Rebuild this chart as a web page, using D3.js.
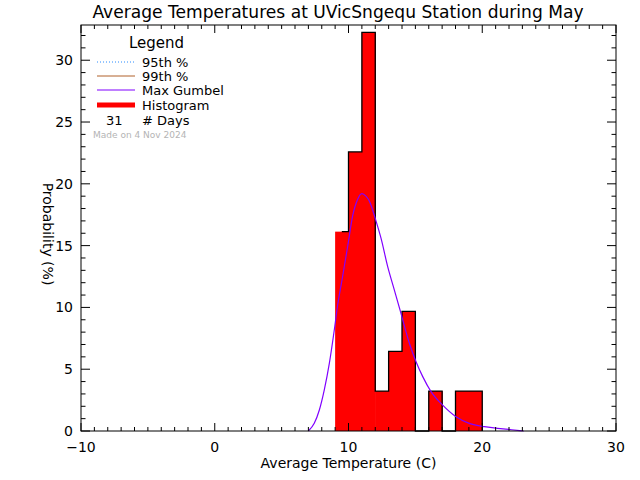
<!DOCTYPE html>
<html>
<head>
<meta charset="utf-8">
<script src="https://cdn.jsdelivr.net/npm/d3@7"></script>
<style>
  body { margin: 0; background: #fff; }
  svg text { font-family: "DejaVu Sans", sans-serif; fill: #000; }
</style>
</head>
<body>
<div id="chart"></div>
<script>
// histogram bins (lower edge, deg C) and probability (%)
var binStart = [9, 10, 11, 12, 13, 14, 15, 16, 17, 18, 19];
var binProb = [16.13, 22.58, 32.26, 3.23, 6.45, 9.68, 0, 3.23, 0, 3.23, 3.23];

// Max Gumbel curve
var gumbelT = [7.0, 7.44, 7.82, 8.19, 8.57, 8.94, 9.19, 9.56, 9.94, 10.31, 10.68, 11.0, 11.3, 11.56, 12.06, 12.43, 12.93, 13.43, 13.85, 14.55, 15.05, 15.55, 16.17, 17.04, 18.04, 19.03, 20.15, 21.15, 22.2, 23.1];
var gumbelP = [0.0, 0.62, 1.70, 3.33, 5.49, 8.19, 10.2, 12.5, 14.95, 17.4, 18.73, 19.2, 19.0, 18.6, 16.98, 15.6, 13.3, 11.4, 9.8, 7.1, 5.6, 4.4, 3.19, 2.1, 1.16, 0.62, 0.35, 0.22, 0.1, 0.0];

var nDays = 31;
var xTicks = [-10, 0, 10, 20, 30];
var yTicks = [0, 5, 10, 15, 20, 25, 30];

var width = 640, height = 480;
var margin = {left: 81, right: 24, top: 25, bottom: 49};
var w = width - margin.left - margin.right;
var h = height - margin.top - margin.bottom;

var svg = d3.select("#chart").append("svg")
    .attr("width", width)
    .attr("height", height);

var g = svg.append("g")
    .attr("transform", "translate(" + margin.left + "," + margin.top + ")");

var x = d3.scaleLinear().domain([-10, 30]).range([0, w]);
var y = d3.scaleLinear().domain([0, 32.85]).range([h, 0]);

// red bars (a little overlap so no seams show between equal bars)
g.selectAll(".bar")
    .data(binStart)
    .enter()
    .append("rect")
    .attr("class", "bar")
    .attr("x", function (d) { return x(d); })
    .attr("y", function (d, i) { return y(binProb[i]); })
    .attr("width", function (d, i) {
        var extra = (i < binStart.length - 1) ? 0.6 : 0;
        return x(d + 1) - x(d) + extra;
    })
    .attr("height", function (d, i) { return h - y(binProb[i]); })
    .attr("fill", "#ff0000");

// black step outline, starts at first bin centre like IDL psym=10
var stepPts = binStart.map(function (d, i) { return [d, binProb[i]]; });
stepPts[0] = [binStart[0] + 0.5, binProb[0]];
stepPts.push([binStart[binStart.length - 1] + 1, 0]);
g.append("path")
    .attr("d", d3.line()
        .x(function (d) { return x(d[0]); })
        .y(function (d) { return y(d[1]); })
        .curve(d3.curveStepAfter)(stepPts))
    .attr("fill", "none")
    .attr("stroke", "#000")
    .attr("stroke-width", 1.3);

// gumbel curve
g.append("path")
    .attr("d", d3.line()
        .x(function (d, i) { return x(gumbelT[i]); })
        .y(function (d) { return y(d); })
        .curve(d3.curveMonotoneX)(gumbelP))
    .attr("fill", "none")
    .attr("stroke", "#8000ff")
    .attr("stroke-width", 1.2);

// ticks on all four sides, pointing inward
var xMinor = d3.range(-10, 30.001, 1);
var yMinor = d3.range(0, 32.001, 1);

function isMajor(v, step) { return Math.abs(v / step - Math.round(v / step)) < 1e-6; }

var ticks = g.append("g").attr("stroke", "#000").attr("stroke-width", 1);
xMinor.forEach(function (v) {
    var len = isMajor(v, 10) ? 8 : 4;
    ticks.append("line").attr("x1", x(v)).attr("x2", x(v)).attr("y1", h).attr("y2", h - len);
    ticks.append("line").attr("x1", x(v)).attr("x2", x(v)).attr("y1", 0).attr("y2", len);
});
yMinor.forEach(function (v) {
    var len = isMajor(v, 5) ? 9 : 4.5;
    ticks.append("line").attr("y1", y(v)).attr("y2", y(v)).attr("x1", 0).attr("x2", len);
    ticks.append("line").attr("y1", y(v)).attr("y2", y(v)).attr("x1", w).attr("x2", w - len);
});

g.append("rect")
    .attr("x", 0).attr("y", 0)
    .attr("width", w).attr("height", h)
    .attr("fill", "none")
    .attr("stroke", "#000")
    .attr("stroke-width", 1);

// tick labels
g.selectAll(".xlab")
    .data(xTicks)
    .enter()
    .append("text")
    .attr("x", function (d) { return x(d); })
    .attr("y", h + 21)
    .attr("text-anchor", "middle")
    .style("font-size", "14px")
    .text(function (d) { return d < 0 ? "\u2212" + (-d) : d; });

g.selectAll(".ylab")
    .data(yTicks)
    .enter()
    .append("text")
    .attr("x", -8)
    .attr("y", function (d) { return y(d) + 5; })
    .attr("text-anchor", "end")
    .style("font-size", "14px")
    .text(function (d) { return d; });

// titles
svg.append("text")
    .attr("x", 338)
    .attr("y", 18)
    .attr("text-anchor", "middle")
    .style("font-size", "17.1px")
    .text("Average Temperatures at UVicSngequ Station during May");

svg.append("text")
    .attr("x", margin.left + w / 2)
    .attr("y", 468)
    .attr("text-anchor", "middle")
    .style("font-size", "14px")
    .text("Average Temperature (C)");

svg.append("text")
    .attr("transform", "translate(43,234) rotate(90)")
    .attr("text-anchor", "middle")
    .style("font-size", "14px")
    .text("Probability  (%)");

// legend
var leg = svg.append("g");
leg.append("text").attr("x", 129).attr("y", 48).style("font-size", "15px").text("Legend");

var legRows = [
    {label: "95th %", color: "#2a8cff", dash: "1,2", width: 1, y: 62},
    {label: "99th %", color: "#b0602a", dash: null, width: 1, y: 76},
    {label: "Max Gumbel", color: "#8000ff", dash: null, width: 1.2, y: 90},
    {label: "Histogram", color: "#ff0000", dash: null, width: 5, y: 105}
];
legRows.forEach(function (r) {
    leg.append("line")
        .attr("x1", 97).attr("x2", 135)
        .attr("y1", r.y).attr("y2", r.y)
        .attr("stroke", r.color)
        .attr("stroke-width", r.width)
        .attr("stroke-dasharray", r.dash);
    leg.append("text")
        .attr("x", 142).attr("y", r.y + 5)
        .style("font-size", "13px")
        .text(r.label);
});
leg.append("text").attr("x", 106).attr("y", 125).style("font-size", "13px").text(nDays);
leg.append("text").attr("x", 142).attr("y", 125).style("font-size", "13px").text("# Days");
leg.append("text").attr("x", 93).attr("y", 138)
    .style("font-size", "9px")
    .style("fill", "#b4b4b4")
    .text("Made on 4 Nov 2024");
</script>
</body>
</html>
